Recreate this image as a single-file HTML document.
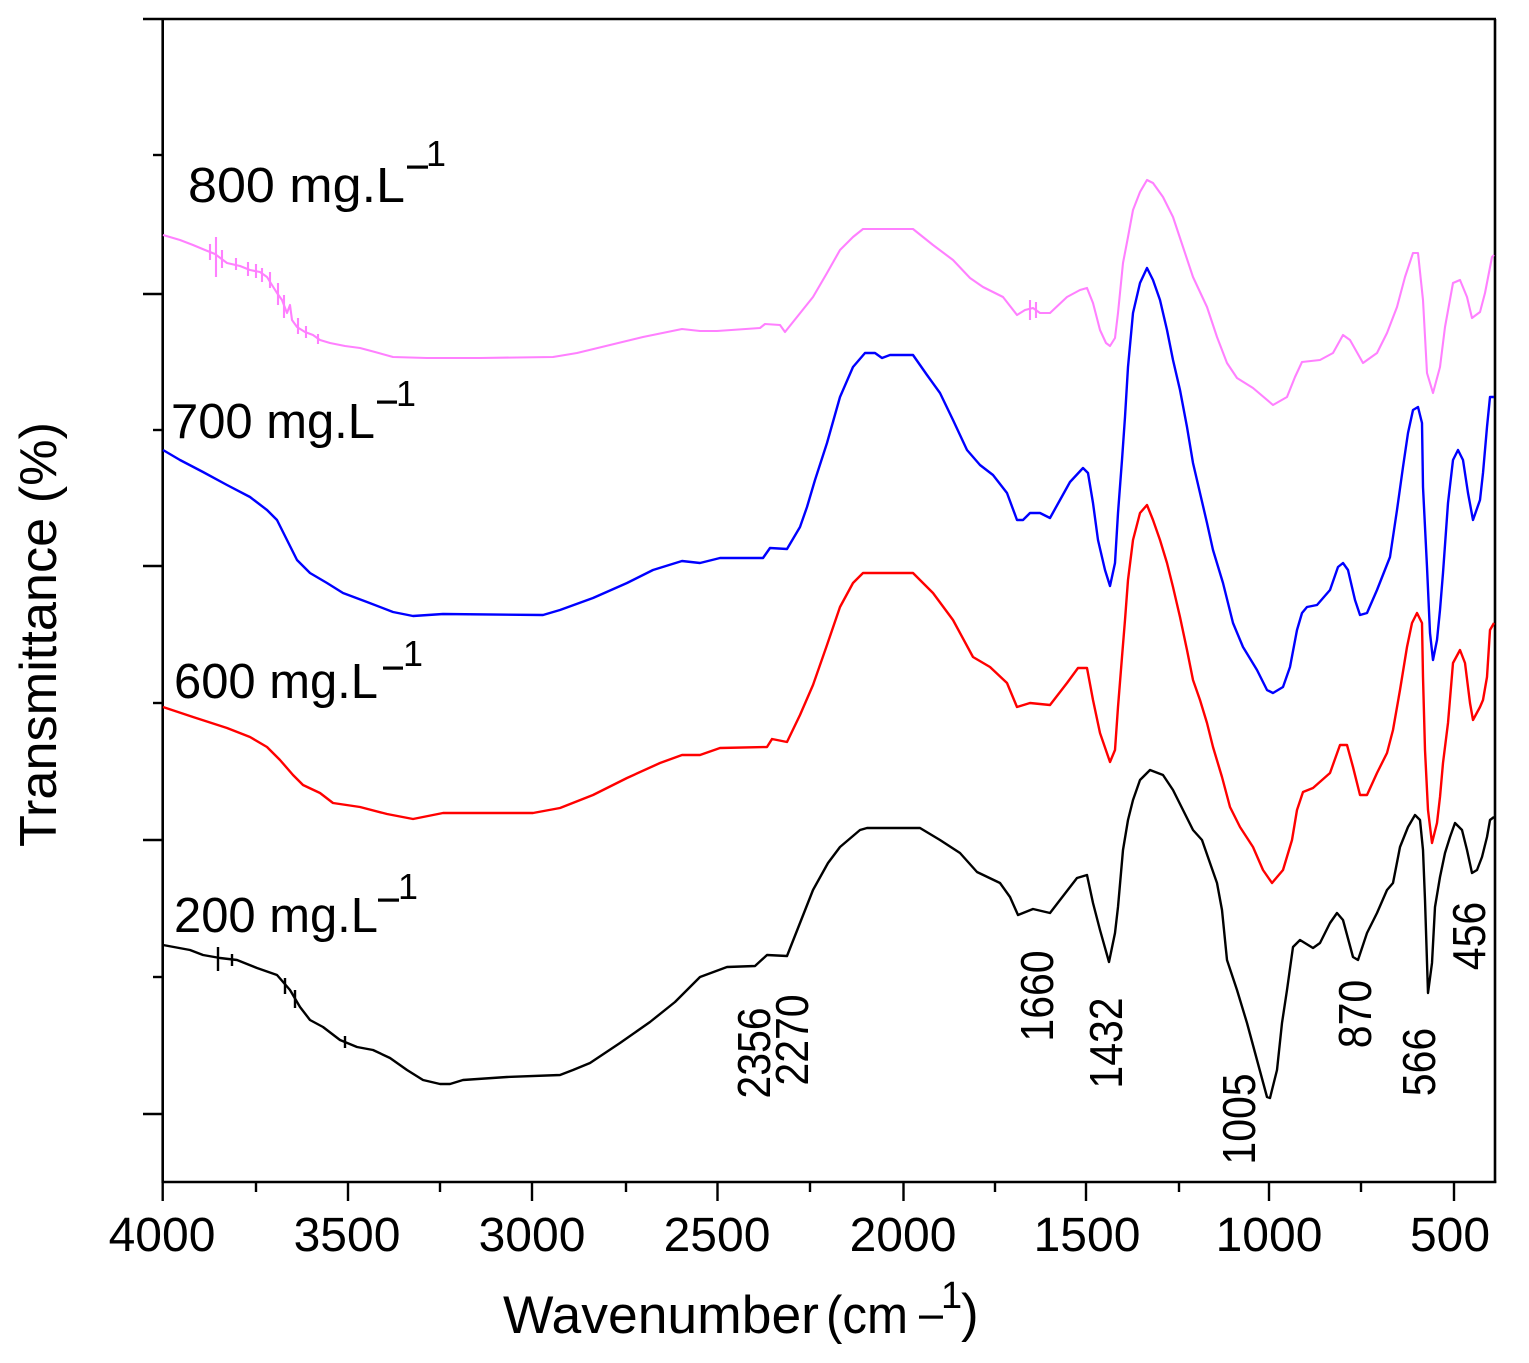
<!DOCTYPE html>
<html>
<head>
<meta charset="utf-8">
<style>
  html, body { margin:0; padding:0; background:#fff; }
  svg { display:block; }
  text { font-family: "Liberation Sans", Arial, sans-serif; fill:#000; }
</style>
</head>
<body>
<svg width="1529" height="1363" viewBox="0 0 1529 1363" xmlns="http://www.w3.org/2000/svg">
  <rect x="0" y="0" width="1529" height="1363" fill="#fff"/>

  <!-- Frame -->
  <g stroke="#000" stroke-width="2.6" fill="none">
    <line x1="143" y1="19" x2="1496" y2="19"/>
    <line x1="162.7" y1="19" x2="162.7" y2="1183"/>
    <line x1="1495" y1="19" x2="1495" y2="1183"/>
    <line x1="161.5" y1="1182" x2="1496.3" y2="1182"/>
  </g>

  <!-- Y ticks -->
  <g stroke="#000" stroke-width="2.4">
    <line x1="143" y1="294" x2="162" y2="294"/>
    <line x1="143" y1="566" x2="162" y2="566"/>
    <line x1="143" y1="840" x2="162" y2="840"/>
    <line x1="143" y1="1114" x2="162" y2="1114"/>
    <line x1="153" y1="155" x2="162" y2="155"/>
    <line x1="153" y1="430" x2="162" y2="430"/>
    <line x1="153" y1="703" x2="162" y2="703"/>
    <line x1="153" y1="977" x2="162" y2="977"/>
  </g>

  <!-- X ticks -->
  <g stroke="#000" stroke-width="2.4">
    <line x1="162.7" y1="1182" x2="162.7" y2="1201"/>
    <line x1="348" y1="1182" x2="348" y2="1201"/>
    <line x1="532" y1="1182" x2="532" y2="1201"/>
    <line x1="717.5" y1="1182" x2="717.5" y2="1201"/>
    <line x1="903.5" y1="1182" x2="903.5" y2="1201"/>
    <line x1="1086" y1="1182" x2="1086" y2="1201"/>
    <line x1="1269" y1="1182" x2="1269" y2="1201"/>
    <line x1="1454" y1="1182" x2="1454" y2="1201"/>
    <line x1="256" y1="1182" x2="256" y2="1192"/>
    <line x1="440" y1="1182" x2="440" y2="1192"/>
    <line x1="626" y1="1182" x2="626" y2="1192"/>
    <line x1="810" y1="1182" x2="810" y2="1192"/>
    <line x1="995" y1="1182" x2="995" y2="1192"/>
    <line x1="1179" y1="1182" x2="1179" y2="1192"/>
    <line x1="1361" y1="1182" x2="1361" y2="1192"/>
  </g>

  <!-- X tick labels -->
  <g font-size="48" text-anchor="middle">
    <text x="162" y="1251">4000</text>
    <text x="347" y="1251">3500</text>
    <text x="532" y="1251">3000</text>
    <text x="717" y="1251">2500</text>
    <text x="903" y="1251">2000</text>
    <text x="1087" y="1251">1500</text>
    <text x="1269" y="1251">1000</text>
    <text x="1450" y="1251">500</text>
  </g>

  <!-- Axis titles -->
  <text x="503" y="1333" font-size="53" textLength="316" lengthAdjust="spacingAndGlyphs">Wavenumber</text>
  <text x="826" y="1333" font-size="53" textLength="82" lengthAdjust="spacingAndGlyphs">(cm</text>
  <rect x="919" y="1315.5" width="24" height="3.2" fill="#000"/>
  <text x="941" y="1308" font-size="38">1</text>
  <text x="961" y="1331" font-size="53">)</text>

  <text transform="translate(56,847) rotate(-90)" font-size="52" textLength="425" lengthAdjust="spacingAndGlyphs">Transmittance (%)</text>

  <!-- Series labels -->
  <text x="188" y="202" font-size="49" textLength="217" lengthAdjust="spacingAndGlyphs">800 mg.L</text>
  <rect x="407" y="165.5" width="21" height="3.2" fill="#000"/>
  <text x="426" y="166" font-size="36">1</text>

  <text x="171" y="438" font-size="49" textLength="204" lengthAdjust="spacingAndGlyphs">700 mg.L</text>
  <rect x="377" y="400.5" width="20" height="3.2" fill="#000"/>
  <text x="396" y="406" font-size="36">1</text>

  <text x="174" y="698" font-size="49" textLength="204" lengthAdjust="spacingAndGlyphs">600 mg.L</text>
  <rect x="383" y="666.5" width="20" height="3.2" fill="#000"/>
  <text x="403" y="666" font-size="36">1</text>

  <text x="174" y="932" font-size="49" textLength="204" lengthAdjust="spacingAndGlyphs">200 mg.L</text>
  <rect x="378" y="898.5" width="21" height="3.2" fill="#000"/>
  <text x="398" y="899" font-size="36">1</text>

  <!-- Peak annotations (rotated) -->
  <g font-size="41" text-anchor="middle" fill="#222">
    <text transform="translate(770,1053) rotate(-90) scale(1,1.14)">2356</text>
    <text transform="translate(808,1040) rotate(-90) scale(1,1.14)">2270</text>
    <text transform="translate(1053,996) rotate(-90) scale(1,1.14)">1660</text>
    <text transform="translate(1122,1043) rotate(-90) scale(1,1.14)">1432</text>
    <text transform="translate(1255,1119) rotate(-90) scale(1,1.14)">1005</text>
    <text transform="translate(1371,1014) rotate(-90) scale(1,1.14)">870</text>
    <text transform="translate(1435,1062) rotate(-90) scale(1,1.14)">566</text>
    <text transform="translate(1485,936) rotate(-90) scale(1,1.14)">456</text>
  </g>

  <!-- Pink (800) -->
  <g fill="none" stroke="#ff80ff" stroke-width="2.1" stroke-linejoin="round">
    <polyline points="163,235 180,240 193,245 205,250 210,252 215,254 227,263 240,266 250,270 260,272 267,277 272,285 277,293 282,300 287,313 290,305 292,320 297,327 305,332 313,335 320,340 330,343 345,346 360,348 375,352 393,357 427,358 480,358 553,357 577,353 610,345 643,337 682,329 700,331 717,331 760,328 765,324 780,325 785,332 797,317 813,297 827,273 840,250 853,237 863,229 913,229 933,245 953,260 970,278 983,287 1003,297 1017,315 1025,310 1033,308 1040,313 1050,313 1067,297 1080,290 1087,288 1093,303 1100,330 1106,343 1110,346 1115,338 1118,313 1123,263 1128,237 1133,210 1140,192 1147,180 1153,183 1163,197 1173,217 1183,247 1193,277 1207,307 1217,337 1227,363 1237,378 1253,388 1273,405 1287,397 1295,377 1302,362 1320,360 1333,353 1343,335 1350,340 1363,363 1377,353 1387,333 1397,307 1405,277 1413,253 1418,253 1423,300 1427,373 1433,393 1440,367 1445,327 1453,283 1460,280 1467,297 1472,318 1480,312 1485,293 1492,257 1494,255"/>
    <path d="M216,237 L216,277 M210,244 L210,260 M222,250 L222,268 M236,258 L236,270 M248,262 L248,276 M256,264 L256,278 M262,268 L262,282 M270,272 L270,288 M278,283 L278,305 M284,295 L284,318 M298,318 L298,334 M306,326 L306,338 M318,334 L318,344 M1030,300 L1030,320 M1036,302 L1036,318"/>
  </g>

  <!-- Blue (700) -->
  <polyline fill="none" stroke="#0000ff" stroke-width="2.4" stroke-linejoin="round" points="163,450 180,460 203,472 227,485 250,497 267,510 277,520 287,540 297,560 310,573 327,583 343,593 367,602 393,612 413,616 443,614 543,615 560,610 593,598 627,583 653,570 682,561 700,563 720,558 763,558 770,548 787,549 800,527 807,507 815,480 827,443 840,397 853,367 865,353 875,353 882,358 890,355 913,355 927,375 940,393 953,420 967,450 980,465 993,475 1007,493 1017,520 1023,520 1030,513 1040,513 1050,518 1060,500 1070,482 1083,468 1088,473 1093,503 1098,540 1105,570 1110,586 1115,563 1118,513 1122,460 1125,417 1128,367 1133,313 1140,283 1147,268 1153,280 1160,300 1167,330 1173,360 1180,390 1187,427 1193,463 1200,493 1207,523 1213,550 1223,583 1233,623 1243,647 1257,670 1267,690 1273,693 1283,687 1290,667 1297,630 1302,613 1307,607 1317,605 1330,590 1338,567 1343,563 1348,570 1355,600 1360,615 1367,613 1377,590 1390,557 1397,510 1403,467 1408,433 1413,410 1418,407 1422,423 1423,487 1427,567 1430,633 1433,660 1437,640 1440,610 1443,573 1448,503 1453,460 1458,450 1463,460 1468,493 1473,520 1480,500 1483,473 1487,427 1490,397 1494,397"/>

  <!-- Red (600) -->
  <polyline fill="none" stroke="#ff0000" stroke-width="2.4" stroke-linejoin="round" points="163,707 193,717 227,728 250,737 267,747 280,760 293,775 303,785 320,793 333,803 360,807 387,814 413,819 443,813 533,813 560,808 593,795 627,778 660,763 682,755 700,755 720,748 767,747 772,739 787,742 800,715 813,685 827,645 840,607 853,583 863,573 913,573 933,593 953,620 973,657 990,667 1007,683 1017,707 1030,703 1050,705 1067,683 1078,668 1087,668 1093,700 1100,733 1110,762 1115,750 1118,707 1122,657 1125,620 1128,580 1133,540 1140,513 1147,505 1153,520 1160,540 1167,563 1173,587 1180,617 1187,650 1193,680 1200,700 1207,723 1213,747 1222,777 1230,807 1240,827 1253,847 1263,870 1272,883 1283,870 1292,840 1297,810 1303,792 1313,788 1330,773 1340,745 1347,745 1353,767 1360,795 1367,795 1377,773 1387,753 1393,730 1400,690 1407,647 1412,623 1417,613 1422,623 1423,677 1425,750 1428,810 1432,843 1437,823 1440,797 1443,763 1448,723 1453,663 1460,650 1465,663 1470,703 1473,720 1480,707 1483,700 1487,677 1490,630 1494,623"/>

  <!-- Black (200) -->
  <g fill="none" stroke="#000" stroke-width="2.4" stroke-linejoin="round">
    <polyline points="163,945 190,950 203,955 220,958 237,960 257,968 277,975 290,990 300,1007 310,1020 323,1027 340,1040 357,1047 373,1050 390,1058 407,1070 423,1080 440,1084 450,1084 463,1080 507,1077 560,1075 573,1070 590,1063 620,1043 650,1022 675,1002 700,977 727,967 755,966 767,955 787,956 800,923 813,890 828,863 840,847 860,830 867,828 920,828 940,840 960,853 977,872 1000,883 1010,897 1018,915 1033,909 1050,913 1060,900 1077,878 1087,875 1093,903 1100,930 1109,962 1115,933 1118,907 1123,850 1128,820 1133,800 1140,780 1150,770 1163,775 1173,790 1183,810 1193,830 1202,840 1210,863 1217,883 1222,910 1227,960 1237,990 1247,1023 1257,1060 1267,1097 1270,1098 1277,1070 1282,1023 1287,990 1293,947 1300,940 1313,948 1320,943 1330,923 1337,913 1343,920 1353,957 1358,960 1367,933 1377,913 1387,890 1393,883 1400,847 1408,827 1415,815 1420,820 1423,850 1425,900 1428,993 1432,963 1435,907 1440,877 1445,853 1450,837 1455,823 1462,830 1467,850 1472,873 1477,870 1482,857 1487,837 1490,820 1494,817"/>
    <path d="M218,947 L218,971 M232,954 L232,966 M285,978 L285,994 M295,990 L295,1008 M345,1036 L345,1048"/>
  </g>
</svg>
</body>
</html>
